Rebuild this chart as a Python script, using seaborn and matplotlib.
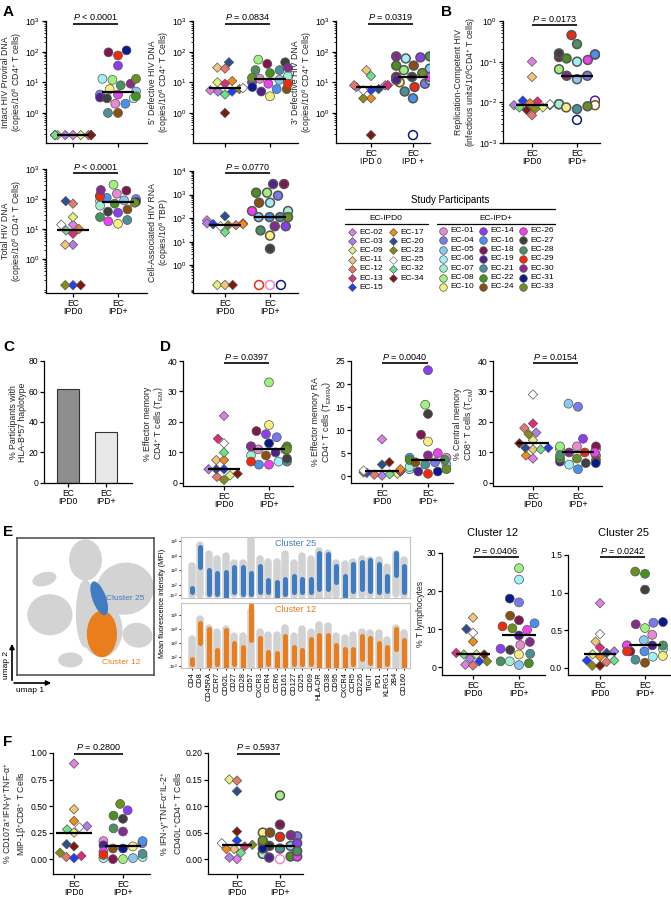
import numpy as np
import pandas as pd
import matplotlib
matplotlib.use("Agg")
import matplotlib.pyplot as plt
import seaborn as sns
from matplotlib.patches import Ellipse
from matplotlib.ticker import NullFormatter, FormatStrFormatter, LogLocator

# ---------------- participants ----------------
ipd0_ids = ["EC-02", "EC-03", "EC-09", "EC-11", "EC-12", "EC-13", "EC-15",
            "EC-17", "EC-20", "EC-23", "EC-25", "EC-32", "EC-34"]
ipd0_colors = ["#e07ee8", "#b57be8", "#e2f27a", "#f2c67a", "#e8786c", "#e02a7c", "#1f3ff0",
               "#f08a18", "#2a4f8e", "#8a8a18", "#ffffff", "#6fe08a", "#7a1a10"]
ipdp_ids = ["EC-01", "EC-04", "EC-05", "EC-06", "EC-07", "EC-08", "EC-10",
            "EC-14", "EC-16", "EC-18", "EC-19", "EC-21", "EC-22", "EC-24",
            "EC-26", "EC-27", "EC-28", "EC-29", "EC-30", "EC-31", "EC-33"]
ipdp_colors = ["#e88ad2", "#7a7af0", "#8ac8f2", "#a0f0fa", "#a0f0d2", "#a0f07e", "#f8f07e",
               "#8a3ef0", "#4a90f0", "#801850", "#50208e", "#4a9098", "#4a9020", "#8a5010",
               "#f040f0", "#404040", "#4a9060", "#f02a0a", "#8a2a90", "#0a1a8a", "#6a9020"]

# ---------------- values (0 = undetected, drawn hollow at floor) ----------------
intact_ipd0 = [0, 0, 0, 0, 0, 0, 0, 0, 0, 0, 0, 0, 0]
intact_ipdp = [2.0, 4.0, 5.0, 13, 3.0, 12, 6.0, 35, 2.0, 95, 3.2, 1.0, 3.5, 1.0, 4.0, 3.0, 8.0, 75, 9.0, 110, 13]
def5_ipd0 = [5.5, 5.0, 10, 30, 28, 9.0, 5.0, 11, 45, 6.0, 6.5, 4.0, 1.0]
def5_ipdp = [13, 15, 12, 11, 16, 55, 3.5, 10, 6.0, 40, 5.0, 25, 20, 6.0, 9.0, 45, 25, 9.0, 30, 7.0, 14]
def3_ipd0 = [8.0, 7.0, 8.0, 25, 8.0, 8.0, 5.5, 3.0, 6.0, 3.0, 5.5, 16, 0]
def3_ipdp = [15, 9.0, 28, 60, 12, 25, 10, 65, 3.0, 15, 12, 5.0, 35, 35, 15, 15, 70, 7.0, 70, 0, 20]
repcomp_ipd0 = [0.1, 0.0085, 0.0075, 0.042, 0.0048, 0.0105, 0.011, 0.0095, 0.0085, 0.007, 0.009, 0.0075, 0.0065]
repcomp_ipd0_hollow = [0, 1, 1, 0, 0, 1, 1, 1, 1, 1, 1, 1, 0]
repcomp_ipdp = [0.009, 0.045, 0.037, 0.1, 0.009, 0.065, 0.0075, 0.15, 0.15, 0.13, 0.011, 0.0068, 0.12,
                0.0085, 0.11, 0.16, 0.27, 0.45, 0.045, 0.0037, 0.008]
repcomp_ipdp_hollow = [0, 0, 0, 0, 0, 0, 0, 0, 0, 0, 1, 0, 0, 1, 0, 0, 0, 0, 0, 1, 0]
total_ipd0 = [14, 3.0, 25, 3.0, 70, 7.0, 0, 10, 85, 0, 14, 9.0, 0]
total_ipdp = [150, 100, 90, 85, 60, 300, 15, 35, 110, 190, 130, 20, 70, 45, 18, 38, 25, 120, 200, 80, 75]
carna_ipd0 = [80, 60, 0, 0, 50, 60, 55, 55, 120, 50, 45, 25, 0]
carna_ipdp = [0, 900, 110, 450, 200, 1200, 18, 45, 110, 2800, 2800, 110, 1200, 450, 200, 5.0, 30, 0, 45, 0, 110]
hla_groups = ["IPD0", "IPD+"]
hla_pct = [61.5, 33.3]
tem_ipd0 = [22, 4.5, 2.5, 7.5, 2.0, 14.5, 4.5, 7.5, 4.5, 1.0, 13, 10, 3.0]
tem_ipdp = [11, 15, 12, 7, 9, 33, 19, 16, 6, 17, 10, 7, 12, 9, 6, 8, 11, 7, 12, 13, 11]
temra_ipd0 = [8, 0.1, 0.5, 1.0, 0.3, 1.0, 0.7, 1.5, 2.5, 0.8, 1.2, 0.4, 3.0]
temra_ipdp = [4, 3, 2.5, 1.5, 2, 15.5, 7.5, 23, 4, 9, 1, 2.5, 3.5, 3, 5, 13.5, 3.5, 0.5, 4.5, 1, 1.5]
tcm_ipd0 = [8, 16.5, 14, 11, 18, 19.5, 11.5, 9, 11.5, 16, 29, 11, 13]
tcm_ipdp = [12, 25, 26, 6, 11, 12, 11, 14.5, 4.5, 12, 7, 9, 8, 7.5, 10, 6.5, 9, 10, 10, 6.5, 8]
c12_ipd0 = [0.6, 2.2, 3.3, 13, 0.4, 3.7, 1.5, 6.7, 10, 1.5, 9, 3.3, 3.3]
c12_ipdp = [5.8, 17, 0.5, 23, 1.5, 26, 3.3, 4.8, 11.5, 12.3, 8.3, 3.5, 1.0, 13.5, 9.8, 4.5, 1.5, 10.7, 6.6, 18, 10.2]
c25_ipd0 = [0.86, 0.22, 0.18, 0.35, 0.08, 0.27, 0.1, 0.15, 0.2, 0.03, 0.45, 0.1, 0.03]
c25_ipdp = [0.44, 0.6, 0.37, 0.15, 0.25, 0.53, 0.16, 0.3, 0.22, 0.22, 0.3, 0.11, 1.25, 0.07, 0.3, 1.04, 0.3,
            0.22, 0.58, 0.61, 1.28]
f1_ipd0 = [0.9, 0.31, 0.25, 0.47, 0.02, 0.03, 0.01, 0.36, 0.14, 0.06, 0.3, 0.28, 0.12]
f1_ipdp = [0.17, 0.15, 0.01, 0.01, 0.02, 0.0, 0.12, 0.46, 0.17, 0.0, 0.13, 0.05, 0.41, 0.1, 0.07, 0.38, 0.29,
           0.04, 0.26, 0.1, 0.52]
f2_ipd0 = [0.0, 0.003, 0.15, 0.019, 0.148, 0.024, 0.035, 0.019, 0.128, 0.027, 0.03, 0.012, 0.052]
f2_ipd0_hollow = [1, 0, 0, 0, 0, 0, 0, 0, 0, 0, 0, 0, 0]
f2_ipdp = [0.0, 0.043, 0.025, 0.01, 0.01, 0.12, 0.05, 0.03, 0.03, 0.065, 0.003, 0.02, 0.005, 0.05, 0.005,
           0.025, 0.015, 0.042, 0.045, 0.02, 0.035]
f2_ipdp_hollow = [1, 0, 0, 0, 0, 0, 0, 0, 0, 0, 0, 0, 0, 0, 0, 0, 0, 0, 0, 0, 0]

# MFI profiles (axis units: 10^2=2, 10^3=3, 10^4=4, 10^5=5)
mfi_markers = ["CD4", "CD8", "CD45RA", "CCR7", "CD62L", "CD27", "CD28", "CD57", "CXCR3", "CCR4", "CCR6",
               "CD161", "CD127", "CD25", "CD69", "HLA-DR", "CD38", "CD95", "CXCR4", "CCR5", "CD226",
               "TIGIT", "PD1", "KLRG1", "2B4", "CD160"]
mfi_grey_lo = [1.3, 1.3, 1.3, 1.3, 1.1, 1.4, 1.3, 1.3, 1.3, 1.3, 1.1, 1.3, 1.3, 1.3, 1.3, 1.1, 1.2, 1.3, 1.1,
               1.3, 1.3, 1.3, 1.2, 1.3, 1.4, 1.3]
mfi_grey_hi = [3.3, 4.7, 4.1, 3.8, 4.0, 3.5, 3.5, 5.3, 3.8, 3.6, 3.6, 4.1, 3.5, 4.0, 3.8, 4.3, 4.2, 3.5, 3.4,
               3.6, 3.8, 3.7, 3.7, 3.2, 4.1, 3.7]
mfi_c25_lo = [1.5, 3.2, 1.4, 1.4, 1.1, 1.5, 1.4, 1.4, 1.5, 1.5, 0.9, 1.4, 1.5, 1.5, 1.5, 1.7, 1.7, 2.2, 0.9,
              1.6, 1.7, 1.6, 1.5, 1.6, 2.7, 1.5]
mfi_c25_hi = [1.8, 4.6, 3.0, 2.8, 2.9, 3.2, 3.2, 2.8, 3.3, 2.3, 2.2, 2.4, 2.6, 2.4, 2.4, 4.2, 4.1, 3.3, 2.6,
              3.4, 3.6, 3.7, 3.4, 2.6, 4.2, 3.3]
mfi_c12_lo = [1.5, 3.0, 1.4, 1.5, 1.1, 1.5, 1.2, 3.2, 1.4, 1.5, 0.9, 1.4, 1.5, 1.5, 1.5, 1.3, 1.3, 1.4, 0.9,
              1.5, 1.9, 1.6, 1.3, 1.5, 2.6, 1.4]
mfi_c12_hi = [1.9, 4.4, 4.0, 2.5, 3.9, 3.0, 2.7, 5.8, 3.4, 2.4, 2.3, 3.5, 2.7, 2.5, 3.3, 3.6, 3.6, 2.9, 2.6,
              2.6, 3.5, 3.4, 3.0, 2.7, 4.0, 3.2]
mfi_top_ticks = [1.31, 2, 3, 4, 5]
mfi_bot_ticks = [1.42, 2, 3, 4, 5]
mfi_ticklabels = ["-10$^{2}$", "10$^{2}$", "10$^{3}$", "10$^{4}$", "10$^{5}$"]

# schematic UMAP blobs (axes fraction: cx, cy, w, h, angle)
umap_grey_blobs = [(0.50, 0.84, 0.24, 0.30, 0), (0.79, 0.63, 0.42, 0.38, 10), (0.24, 0.44, 0.33, 0.30, 0),
                   (0.20, 0.70, 0.18, 0.10, 15), (0.50, 0.45, 0.14, 0.50, 0), (0.39, 0.11, 0.18, 0.11, 0),
                   (0.88, 0.29, 0.22, 0.18, -10), (0.62, 0.33, 0.30, 0.40, 0)]
umap_c12_blob = (0.62, 0.30, 0.22, 0.34, 0)
umap_c25_blob = (0.60, 0.56, 0.10, 0.26, 20)

C_BLUE = "#3f7cc2"
C_ORANGE = "#ea7d1c"

# ---------------- style ----------------
sns.set_theme(style="ticks")
plt.rcParams.update({
    "font.family": ["Liberation Sans", "DejaVu Sans"],
    "mathtext.fontset": "custom",
    "mathtext.rm": "Liberation Sans",
    "mathtext.it": "Liberation Sans:italic",
    "mathtext.bf": "Liberation Sans:bold",
    "mathtext.default": "regular",
    "axes.linewidth": 0.9,
    "axes.edgecolor": "black",
    "xtick.color": "black",
    "ytick.color": "black",
    "text.color": "black",
})

W, H = 671, 900
fig = plt.figure(figsize=(W / 100, H / 100), dpi=100)
YL = 6.3   # y-label font size
TK = 6.2   # tick label font size


def add_ax(L, T, R, B):
    return fig.add_axes([L / W, 1 - B / H, (R - L) / W, (B - T) / H])


def cat_xlim(L, R, t0, t1):
    s = t1 - t0
    return ((L - t0) / s, (R - t0) / s)


def restyle(coll, colors, hollow):
    fcs, ecs = [], []
    any_hollow = bool(np.any(hollow))
    for c, h in zip(colors, hollow):
        if h:
            fcs.append("white")
            ecs.append("#888888" if c == "#ffffff" else c)
        else:
            fcs.append(c)
            ecs.append("#777777" if c == "#ffffff" else "#555555")
    coll.set_facecolors(fcs)
    coll.set_edgecolors(ecs)
    coll.set_linewidth(1.1 if any_hollow else 0.5)


def base_style(ax):
    sns.despine(ax=ax)
    ax.tick_params(axis="both", which="major", length=3, width=0.9, labelsize=TK, pad=1.2)
    ax.tick_params(axis="both", which="minor", length=1.6, width=0.6)
    ax.set_xlabel("")


def swarm_panel(box, ticks, v0, v1, ylim, yticks, ylabel, log=False, floor=None, hol0=None, hol1=None,
                xlabels=("EC\nIPD0", "EC\nIPD+"), fmt=None):
    L, T, R, B = box
    ax = add_ax(L, T, R, B)
    if log:
        ax.set_yscale("log")
    v0 = np.asarray(v0, float)
    v1 = np.asarray(v1, float)
    h0 = np.asarray(hol0, bool) if hol0 is not None else (v0 == 0) & log
    h1 = np.asarray(hol1, bool) if hol1 is not None else (v1 == 0) & log
    if floor is not None:
        v0 = np.where(v0 == 0, floor, v0)
        v1 = np.where(v1 == 0, floor, v1)
    ax.set_ylim(*ylim)
    groups = [("IPD0", v0, ipd0_ids, ipd0_colors, h0, "D", 4.8, 0),
              ("IPD+", v1, ipdp_ids, ipdp_colors, h1, "o", 6.4, 1)]
    for grp, vals, ids, cols, hol, mk, sz, pos in groups:
        df = pd.DataFrame({"grp": grp, "val": vals, "pid": ids})
        sns.swarmplot(data=df, x="grp", y="val", order=["IPD0", "IPD+"], hue="pid", hue_order=ids,
                      palette=dict(zip(ids, cols)), marker=mk, size=sz, linewidth=0.5,
                      edgecolor="#555555", legend=False, warn_thresh=1.0, ax=ax)
        restyle(ax.collections[-1], cols, hol)
        med = np.median(vals)
        ax.hlines(med, pos - 0.36, pos + 0.36, color="black", lw=1.6, zorder=6)
    ax.set_ylim(*ylim)
    ax.set_xlim(*cat_xlim(L, R, *ticks))
    ax.set_yticks(yticks)
    if log:
        ax.yaxis.set_minor_locator(LogLocator(base=10, subs=np.arange(2, 10), numticks=20))
        ax.yaxis.set_minor_formatter(NullFormatter())
    if fmt:
        ax.yaxis.set_major_formatter(FormatStrFormatter(fmt))
    ax.set_xticks([0, 1])
    ax.set_xticklabels(xlabels if xlabels else ["", ""], fontsize=TK, linespacing=0.95)
    ax.set_ylabel(ylabel, fontsize=YL, linespacing=1.05, labelpad=1.0)
    base_style(ax)
    return ax


# ---------------- Panel A / B ----------------
lab_cells = "(copies/10$^{6}$ CD4$^{+}$ T Cells)"
swarm_panel((46, 21, 147, 143), (73, 118), intact_ipd0, intact_ipdp, (10 ** -0.98, 1000),
            [1, 10, 100, 1000], "Intact HIV Proviral DNA\n(copies/10$^{6}$ CD4$^{+}$ T cells)",
            log=True, floor=0.19, xlabels=None)
swarm_panel((193, 21, 298, 143), (225, 270), def5_ipd0, def5_ipdp, (10 ** -0.98, 1000),
            [1, 10, 100, 1000], "5' Defective HIV DNA\n" + lab_cells, log=True, floor=0.19, xlabels=None)
swarm_panel((336, 21, 430, 143), (371, 413), def3_ipd0, def3_ipdp, (10 ** -0.98, 1000),
            [1, 10, 100, 1000], "3' Defective HIV DNA\n" + lab_cells, log=True, floor=0.19,
            xlabels=("EC\nIPD 0", "EC\nIPD +"))
swarm_panel((503, 21, 600, 143), (532, 577), repcomp_ipd0, repcomp_ipdp, (1e-3, 1),
            [1e-3, 1e-2, 1e-1, 1], "Replication-Competent HIV\n(infectious units/10$^{6}$CD4$^{+}$ T cells)",
            log=True, hol0=repcomp_ipd0_hollow, hol1=repcomp_ipdp_hollow)
swarm_panel((46, 169, 147, 293), (73, 118), total_ipd0, total_ipdp, (10 ** -1.13, 1000),
            [1, 10, 100, 1000], "Total HIV DNA\n" + lab_cells, log=True, floor=0.135)
swarm_panel((193, 171, 298, 293), (225, 270), carna_ipd0, carna_ipdp, (10 ** -1.18, 10 ** 4),
            [1, 10, 100, 1000, 10000], "Cell-Associated HIV RNA\n(copies/10$^{6}$ TBP)", log=True,
            floor=10 ** -0.84)

# ---------------- Panel C ----------------
axc = add_ax(44, 361, 132, 483)
sns.barplot(x=hla_groups, y=hla_pct, hue=hla_groups, palette=["#8e8e8e", "#e8e8e8"], legend=False,
            width=0.58, edgecolor="#333333", linewidth=0.8, ax=axc)
axc.set_ylim(0, 80)
axc.set_xlim(*cat_xlim(44, 132, 68, 106))
axc.set_yticks([0, 20, 40, 60, 80])
axc.set_xticks([0, 1])
axc.set_xticklabels(["EC\nIPD0", "EC\nIPD+"], fontsize=TK, linespacing=0.95)
axc.set_ylabel("% Participants with\nHLA-B*57 haplotype", fontsize=YL, linespacing=1.05, labelpad=1.0)
base_style(axc)

# ---------------- Panel D ----------------
swarm_panel((183, 361, 293, 486), (224, 269), tem_ipd0, tem_ipdp, (-1, 40), [0, 10, 20, 30, 40],
            "% Effector memory\nCD4$^{+}$ T cells (T$_{EM}$)")
swarm_panel((351, 361, 453, 483), (382, 428), temra_ipd0, temra_ipdp, (-1.5, 25), [0, 5, 10, 15, 20, 25],
            "% Effector memory RA\nCD4$^{+}$ T cells (T$_{EMRA}$)")
swarm_panel((493, 361, 602, 486), (533, 578), tcm_ipd0, tcm_ipdp, (-1, 40), [0, 10, 20, 30, 40],
            "% Central memory\nCD8$^{+}$ T cells (T$_{CM}$)")

# ---------------- Panel E ----------------
axu = add_ax(17, 538, 154, 675)
axu.set_xlim(0, 1)
axu.set_ylim(0, 1)
axu.set_xticks([])
axu.set_yticks([])
for sp in axu.spines.values():
    sp.set_linewidth(1.2)
    sp.set_color("#555555")
for cx, cy, w, h, a in umap_grey_blobs:
    axu.add_patch(Ellipse((cx, cy), w, h, angle=a, color="#d3d3d3", lw=0))
cx, cy, w, h, a = umap_c12_blob
axu.add_patch(Ellipse((cx, cy), w, h, angle=a, color=C_ORANGE, lw=0))
cx, cy, w, h, a = umap_c25_blob
axu.add_patch(Ellipse((cx, cy), w, h, angle=a, color=C_BLUE, lw=0))
axu.text(0.79, 0.56, "Cluster 25", color=C_BLUE, fontsize=6, ha="center", va="center")
axu.text(0.76, 0.09, "Cluster 12", color=C_ORANGE, fontsize=6, ha="center", va="center")


def mfi_panel(box, lo, hi, color, label, show_labels, ylim, yt):
    ax = add_ax(*box)
    x = np.arange(len(mfi_markers))
    ax.vlines(x, mfi_grey_lo, mfi_grey_hi, color="#d2d2d2", lw=5.4, capstyle="round")
    ax.vlines(x, lo, hi, color=color, lw=3.6, capstyle="round")
    ax.set_xlim(*cat_xlim(box[0], box[2], 192, 200.48))
    ax.set_ylim(*ylim)
    ax.set_yticks(yt)
    ax.set_yticklabels(mfi_ticklabels, fontsize=3.2)
    ax.set_xticks(x)
    if show_labels:
        ax.set_xticklabels(mfi_markers, rotation=90, fontsize=5.3)
    else:
        ax.set_xticklabels([])
    ax.tick_params(axis="x", length=1.5 if show_labels else 0, width=0.6, pad=1.5)
    ax.tick_params(axis="y", length=1.2, width=0.6, pad=0.8)
    for sp in ax.spines.values():
        sp.set_color("#c4c4c4")
        sp.set_linewidth(0.8)
    ax.text(0.5, 0.97, label, color=color, fontsize=6.5, ha="center", va="top", transform=ax.transAxes)
    return ax


mfi_panel((181, 537, 410, 598), mfi_c25_lo, mfi_c25_hi, C_BLUE, "Cluster 25", False, (1.1, 5.28),
          mfi_top_ticks)
mfi_panel((181, 603, 410, 668), mfi_c12_lo, mfi_c12_hi, C_ORANGE, "Cluster 12", True, (1.25, 5.84),
          mfi_bot_ticks)

swarm_panel((442, 553, 545, 675), (473, 519), c12_ipd0, c12_ipdp, (-2.1, 30), [0, 10, 20, 30],
            "% T lymphocytes")
swarm_panel((568, 555, 670, 675), (600, 645), c25_ipd0, c25_ipdp, (-0.093, 1.5), [0, 0.5, 1.0, 1.5],
            "", fmt="%.1f")

# ---------------- Panel F ----------------
swarm_panel((53, 753, 150, 874), (74, 123), f1_ipd0, f1_ipdp, (-0.14, 1.0),
            [0, 0.25, 0.5, 0.75, 1.0],
            "% CD107a$^{+}$IFN-γ$^{+}$TNF-α$^{+}$\nMIP-1β$^{+}$CD8$^{+}$ T Cells", fmt="%.2f")
swarm_panel((208, 753, 303, 874), (237, 280), f2_ipd0, f2_ipdp, (-0.028, 0.20),
            [0, 0.05, 0.10, 0.15, 0.20],
            "% IFN-γ$^{+}$TNF-α$^{+}$IL-2$^{+}$\nCD40L$^{+}$CD4$^{+}$ T Cells", fmt="%.2f",
            hol0=f2_ipd0_hollow, hol1=f2_ipdp_hollow)

# ---------------- overlay (annotations, legend) ----------------
ov = fig.add_axes([0, 0, 1, 1])
ov.set_xlim(0, W)
ov.set_ylim(H, 0)
ov.axis("off")


def pbar(t0, t1, y, txt):
    ov.plot([t0, t1], [y, y], color="black", lw=1.2, solid_capstyle="butt")
    ov.text((t0 + t1) / 2, y - 1.5, txt, ha="center", va="bottom", fontsize=6.5)


P = r"$\mathit{P}$"
pbar(73, 118, 24, P + " < 0.0001")
pbar(225, 270, 24, P + " = 0.0834")
pbar(368, 413, 24, P + " = 0.0319")
pbar(532, 577, 25, P + " = 0.0173")
pbar(73, 118, 173, P + " < 0.0001")
pbar(225, 270, 173, P + " = 0.0770")
pbar(224, 269, 363, P + " = 0.0397")
pbar(382, 428, 363, P + " = 0.0040")
pbar(533, 578, 363, P + " = 0.0154")
pbar(473, 519, 557, P + " = 0.0406")
pbar(600, 645, 557, P + " = 0.0242")
pbar(74, 123, 754, P + " = 0.2800")
pbar(237, 280, 754, P + " = 0.5937")

ov.text(493, 533, "Cluster 12", fontsize=8, ha="center", va="center")
ov.text(623, 533, "Cluster 25", fontsize=8, ha="center", va="center")
ov.text(163, 603, "Mean fluorescence intensity (MFI)", fontsize=5.2, rotation=90, ha="center", va="center")

# umap arrows
ov.annotate("", xy=(12, 641), xytext=(12, 683),
            arrowprops=dict(arrowstyle="-|>", color="black", lw=1.2, mutation_scale=7))
ov.annotate("", xy=(54, 683), xytext=(11.4, 683),
            arrowprops=dict(arrowstyle="-|>", color="black", lw=1.2, mutation_scale=7))
ov.text(6, 665, "umap 2", fontsize=6, rotation=90, ha="center", va="center")
ov.text(30, 690, "umap 1", fontsize=6, ha="center", va="center")

# panel letters
for letter, (x, y) in {"A": (3, 12), "B": (441, 12), "C": (3, 347), "D": (160, 347),
                       "E": (3, 532), "F": (3, 742)}.items():
    ov.text(x, y, letter, fontsize=11, fontweight="bold", ha="left", va="center")

# legend
ov.text(450, 200, "Study Participants", fontsize=7, ha="center", va="center")
ov.plot([345, 555], [209, 209], color="black", lw=0.9)
ov.text(386, 218, "EC-IPD0", fontsize=6, ha="center", va="center")
ov.plot([345, 428], [224, 224], color="black", lw=0.9)
ov.text(496, 218, "EC-IPD+", fontsize=6, ha="center", va="center")
ov.plot([437, 555], [224, 224], color="black", lw=0.9)

leg0_cols = [(352, 7), (393, 6)]
idx = 0
for mx, n in leg0_cols:
    for r in range(n):
        c = ipd0_colors[idx]
        ov.scatter([mx], [232 + 9.2 * r], marker="D", s=16, c=[c],
                   edgecolors="#777777" if c == "#ffffff" else "#555555", linewidths=0.5)
        ov.text(mx + 7, 232 + 9.2 * r, ipd0_ids[idx], fontsize=6, ha="left", va="center")
        idx += 1
legp_cols = [(443, 7), (483, 7), (523, 7)]
idx = 0
for mx, n in legp_cols:
    for r in range(n):
        ov.scatter([mx], [231 + 9.3 * r], marker="o", s=30, c=[ipdp_colors[idx]],
                   edgecolors="#555555", linewidths=0.5)
        ov.text(mx + 7, 231 + 9.3 * r, ipdp_ids[idx], fontsize=6, ha="left", va="center")
        idx += 1

fig.savefig("out.png", dpi=100)
